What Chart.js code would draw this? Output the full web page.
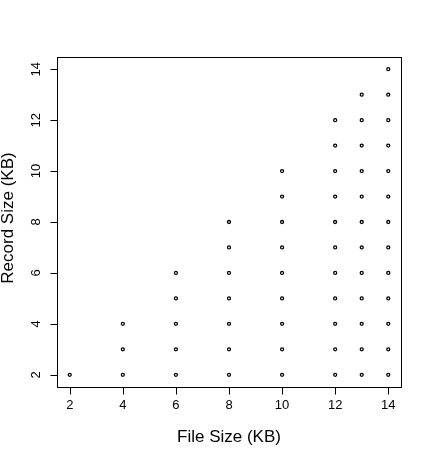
<!DOCTYPE html>
<html>
<head>
<meta charset="utf-8">
<script src="https://cdn.jsdelivr.net/npm/chart.js@4"></script>
<style>
  html,body{margin:0;padding:0;background:#fff;}
  #wrap{width:429px;height:458px;}
</style>
</head>
<body>
<div id="wrap"><canvas id="c" width="429" height="458"></canvas></div>
<script>
// ====== data ======
const fileSizes = [2, 4, 6, 8, 10, 12, 13, 14];
const recordSizes = {
  2:  [2],
  4:  [2, 3, 4],
  6:  [2, 3, 4, 5, 6],
  8:  [2, 3, 4, 5, 6, 7, 8],
  10: [2, 3, 4, 5, 6, 7, 8, 9, 10],
  12: [2, 3, 4, 5, 6, 7, 8, 9, 10, 11, 12],
  13: [2, 3, 4, 5, 6, 7, 8, 9, 10, 11, 12, 13],
  14: [2, 3, 4, 5, 6, 7, 8, 9, 10, 11, 12, 13, 14]
};
const xTicks = [2, 4, 6, 8, 10, 12, 14];
const yTicks = [2, 4, 6, 8, 10, 12, 14];
const xTitle = 'File Size (KB)';
const yTitle = 'Record Size (KB)';

const points = [];
fileSizes.forEach(f => recordSizes[f].forEach(r => points.push({x: f, y: r})));

const FONT = '"Liberation Sans", Arial, Helvetica, sans-serif';

// box, tick marks, y labels, titles -- R style
const rStyle = {
  id: 'rStyle',
  afterDraw(chart){
    const {ctx, chartArea: a, scales} = chart;
    const L = Math.round(a.left) + 0.5, T = Math.round(a.top) + 0.5;
    const R = Math.round(a.right) + 0.5, B = Math.round(a.bottom) + 0.5;
    ctx.save();
    ctx.strokeStyle = '#000';
    ctx.lineWidth = 1;
    ctx.strokeRect(L, T, R - L, B - T);
    ctx.beginPath();
    xTicks.forEach(v => {
      const px = Math.round(scales.x.getPixelForValue(v)) + 0.5;
      ctx.moveTo(px, B); ctx.lineTo(px, B + 7);
    });
    yTicks.forEach(v => {
      const py = Math.round(scales.y.getPixelForValue(v)) + 0.5;
      ctx.moveTo(L, py); ctx.lineTo(L - 7, py);
    });
    ctx.stroke();
    ctx.fillStyle = '#000';
    // y tick labels, rotated
    ctx.font = '13px ' + FONT;
    ctx.textAlign = 'center';
    ctx.textBaseline = 'middle';
    yTicks.forEach(v => {
      const py = scales.y.getPixelForValue(v);
      ctx.save();
      ctx.translate(36, py);
      ctx.rotate(-Math.PI / 2);
      ctx.fillText(String(v), 0, 0);
      ctx.restore();
    });
    // titles
    ctx.font = '17px ' + FONT;
    ctx.fillText(xTitle, (a.left + a.right) / 2, 437);
    ctx.save();
    ctx.translate(8, (a.top + a.bottom) / 2 - 4);
    ctx.rotate(-Math.PI / 2);
    ctx.fillText(yTitle, 0, 0);
    ctx.restore();
    ctx.restore();
  }
};

new Chart(document.getElementById('c'), {
  type: 'scatter',
  data: {
    datasets: [{
      data: points,
      pointStyle: 'circle',
      pointRadius: 1.5,
      pointBorderWidth: 1.3,
      pointBorderColor: '#000',
      pointBackgroundColor: '#fff',
      pointHoverRadius: 1.5
    }]
  },
  options: {
    responsive: false,
    animation: false,
    events: [],
    layout: { padding: { left: 0, top: 57, right: 28, bottom: 0 } },
    plugins: { legend: { display: false }, tooltip: { enabled: false } },
    scales: {
      x: {
        type: 'linear',
        min: 1.52, max: 14.48,
        afterBuildTicks: s => { s.ticks = xTicks.map(v => ({value: v})); },
        afterFit: s => { s.height = 71; },
        border: { display: false },
        grid: { display: false, drawTicks: false },
        ticks: { color: '#000', font: { family: FONT, size: 13 }, padding: 11, maxRotation: 0, autoSkip: false }
      },
      y: {
        type: 'linear',
        min: 1.52, max: 14.48,
        afterBuildTicks: s => { s.ticks = yTicks.map(v => ({value: v})); },
        afterFit: s => { s.width = 57; },
        border: { display: false },
        grid: { display: false, drawTicks: false },
        ticks: { display: false }
      }
    }
  },
  plugins: [rStyle]
});
</script>
</body>
</html>
